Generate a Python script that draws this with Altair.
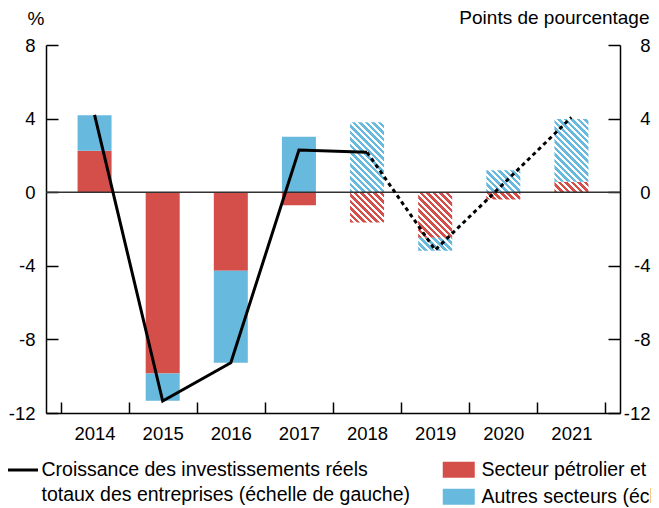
import altair as alt

# ---------------- data ----------------
years = ["2014", "2015", "2016", "2017", "2018", "2019", "2020", "2021"]
oil_gas = [2.25, -9.85, -4.27, -0.71, -1.64, -2.47, -0.39, 0.57]
other = [1.93, -1.48, -5.00, 3.02, 3.80, -0.71, 1.19, 3.41]
growth = [4.20, -11.35, -9.27, 2.29, 2.17, -3.14, 0.45, 4.07]
first_forecast = "2018"

series_names = ["Secteur pétrolier et gazier (échelle de droite)",
                "Autres secteurs (échelle de droite)"]
series_colors = ["#D44E4A", "#68B9DE"]
line_name = "Croissance des investissements réels\ntotaux des entreprises (échelle de gauche)"

y_ticks = [-12, -8, -4, 0, 4, 8]
y_domain = [-12, 8]

# ---------------- layout / style ----------------
W, H = 574, 368
PAD = {"left": 38, "top": 37, "right": 643 - 38 - 574, "bottom": 95}
BAR_W = 34
PX_PER_UNIT = H / (y_domain[1] - y_domain[0])
FONT = "Liberation Sans"
FS = 19.5      # legend
FS_TICK = 18.5  # tick labels
FS_TITLE = 19  # axis titles
NUM_LABEL = "datum.value < 0 ? '-' + abs(datum.value) : '' + datum.value"


def hatch(color, w, h, period=6.5, frac=0.55):
    """Linear gradient with hard stops -> 45deg '\\' stripes in a w x h rect."""
    dt = period / (w + h)
    k = (1 / h + 1 / w) / (1 / h ** 2 + 1 / w ** 2)
    a, b = k / h, k / w
    stops = []
    t = 0.0
    while t < 1:
        t1 = min(t + frac * dt, 1.0)
        t2 = min(t + dt, 1.0)
        stops += [
            {"offset": round(t, 5), "color": color},
            {"offset": round(t1, 5), "color": color},
            {"offset": round(t1, 5), "color": "white"},
            {"offset": round(t2, 5), "color": "white"},
        ]
        t += dt
    return {"gradient": "linear", "x1": 0, "y1": 1, "x2": a, "y2": 1 - b,
            "stops": stops}


fc_idx = years.index(first_forecast)
solid_rows, hatch_rows = [], []
for i, yr in enumerate(years):
    for j, vals in enumerate([oil_gas, other]):
        v = vals[i]
        row = {"year": yr, "value": v, "ord": j, "series": series_names[j]}
        if i < fc_idx:
            solid_rows.append(row)
        else:
            row["grad"] = hatch(series_colors[j], BAR_W, abs(v) * PX_PER_UNIT)
            hatch_rows.append(row)

line_solid = [{"year": years[i], "growth": growth[i], "serie": line_name}
              for i in range(0, fc_idx + 1)]
line_dash = [{"year": years[i], "growth": growth[i]}
             for i in range(fc_idx, len(years))]

# ---------------- encodings ----------------
x_enc = alt.X(
    "year:O", sort=years, title=None,
    scale=alt.Scale(paddingInner=0, paddingOuter=0.213),
    axis=alt.Axis(tickBand="extent", tickSize=alt.ExprRef(expr="-11"),
                  tickColor="black", tickWidth=1.5,
                  domainColor="black", domainWidth=1.5,
                  labelAngle=0, labelFontSize=FS_TICK, labelColor="black",
                  labelPadding=22, grid=False),
)

y_scale = alt.Scale(domain=y_domain, nice=False, zero=False)

right_axis = alt.Axis(orient="right", values=y_ticks, grid=False,
                      tickSize=alt.ExprRef(expr="-12"), tickColor="black",
                      tickWidth=1.5, domainColor="black", domainWidth=1.5,
                      labelFontSize=FS_TICK, labelColor="black",
                      labelAlign="right", labelPadding=42,
                      labelExpr=NUM_LABEL,
                      title="Points de pourcentage", titleAngle=0,
                      titleAlign="right", titleX=29, titleY=-22,
                      titleBaseline="alphabetic", titleFontSize=FS_TITLE,
                      titleFontWeight="normal", titleColor="black")

left_axis = alt.Axis(orient="left", values=y_ticks, grid=False,
                     tickSize=alt.ExprRef(expr="-12"), tickColor="black",
                     tickWidth=1.5, domainColor="black", domainWidth=1.5,
                     labelFontSize=FS_TICK, labelColor="black",
                     labelAlign="right", labelPadding=23,
                     labelExpr=NUM_LABEL,
                     title="%", titleAngle=0, titleAlign="left",
                     titleX=-19, titleY=-21, titleBaseline="alphabetic",
                     titleFontSize=FS_TITLE, titleFontWeight="normal",
                     titleColor="black")

solid_bars = alt.Chart(alt.Data(values=solid_rows)).mark_bar(size=BAR_W).encode(
    x=x_enc,
    y=alt.Y("value:Q", stack="zero", scale=y_scale, axis=right_axis),
    fill=alt.Fill("series:N",
                  scale=alt.Scale(domain=series_names, range=series_colors),
                  legend=alt.Legend(orient="none", legendX=403, legendY=415,
                                    title=None, padding=0,
                                    symbolType="M-2,-1H2V1H-2Z",
                                    symbolSize=256, symbolStrokeWidth=0,
                                    labelFontSize=FS, labelColor="black",
                                    labelLimit=1000, labelOffset=13,
                                    rowPadding=6)),
    order=alt.Order("ord:Q"),
)

hatch_bars = alt.Chart(alt.Data(values=hatch_rows)).mark_bar(size=BAR_W).encode(
    x=x_enc,
    y=alt.Y("value:Q", stack="zero", scale=y_scale, axis=None),
    fill=alt.Fill("grad:N", scale=None),
    detail="series:N",
    order=alt.Order("ord:Q"),
)

zero_rule = alt.Chart(alt.Data(values=[{"z": 0}])).mark_rule(
    color="#333333", strokeWidth=1.5
).encode(y=alt.Y("z:Q", scale=y_scale, axis=None))

line1 = alt.Chart(alt.Data(values=line_solid)).mark_line(
    strokeWidth=3
).encode(
    x=x_enc,
    y=alt.Y("growth:Q", scale=y_scale, axis=left_axis),
    stroke=alt.Stroke("serie:N",
                      scale=alt.Scale(domain=[line_name], range=["black"]),
                      legend=alt.Legend(orient="none", legendX=-39.5,
                                        legendY=408.5, title=None, padding=0,
                                        symbolType="stroke", symbolSize=900,
                                        symbolStrokeWidth=3,
                                        labelExpr="split(datum.label, '\\n')",
                                        labelFontSize=FS, labelColor="black",
                                        labelLimit=1000, labelOffset=2)),
)

line2 = alt.Chart(alt.Data(values=line_dash)).mark_line(
    strokeWidth=3, color="black", strokeDash=[4, 3.5]
).encode(
    x=x_enc,
    y=alt.Y("growth:Q", scale=y_scale, axis=None),
)

chart = alt.layer(solid_bars, hatch_bars, zero_rule, line1, line2).resolve_axis(
    y="independent"
).resolve_scale(fill="independent").properties(
    width=W, height=H,
    autosize=alt.AutoSizeParams(type="none"),
    padding=PAD,
).configure(
    font=FONT,
    style={"guide-label": {"lineHeight": 25}},
).configure_view(stroke=None)

chart.save("out.html", embed_options={"renderer": "svg", "actions": False})
